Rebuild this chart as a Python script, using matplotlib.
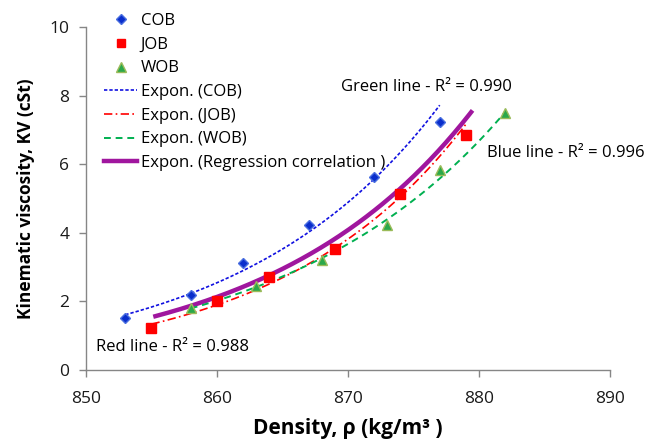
import numpy as np
import matplotlib
matplotlib.use('Agg')
import matplotlib.pyplot as plt
from matplotlib.lines import Line2D

plt.rcParams['font.family'] = ['Open Sans', 'DejaVu Sans']

# ====== data ======
cob_x = [853, 858, 862, 867, 872, 877]
cob_y = [1.52, 2.20, 3.12, 4.23, 5.64, 7.24]
job_x = [855, 860, 864, 869, 874, 879]
job_y = [1.22, 2.01, 2.70, 3.53, 5.12, 6.85]
wob_x = [858, 863, 868, 873, 877, 882]
wob_y = [1.80, 2.46, 3.21, 4.22, 5.83, 7.48]
# regression correlation series (markers hidden, only its trendline is drawn)
reg_x = [855.3, 860, 865, 870, 875, 879.4]
reg_y = [1.57, 2.12, 2.96, 4.08, 5.70, 7.46]

x_ticks = [850, 860, 870, 880, 890]
y_ticks = [0, 2, 4, 6, 8, 10]


def expon_fit(x, y, n=200):
    # Excel-style exponential trendline: ln(y) linear in x
    x = np.asarray(x, float); y = np.asarray(y, float)
    x0 = x.mean()
    b, a = np.polyfit(x - x0, np.log(y), 1)
    xs = np.linspace(x.min(), x.max(), n)
    return xs, np.exp(a + b * (xs - x0))


fig = plt.figure(figsize=(6.48, 4.48), dpi=100)
ax = fig.add_axes([0.1327, 0.1741, 0.8087, 0.7656])

blue, red, green, purple = '#0a2ecc', '#ff0000', '#2ba84a', '#a0169e'

ax.plot(cob_x, cob_y, 'D', color=blue, markeredgecolor='#4a6fe0', markersize=5.5, zorder=4)
ax.plot(job_x, job_y, 's', color=red, markeredgecolor=red, markersize=6.8, zorder=4)
ax.plot(wob_x, wob_y, '^', color=green, markeredgecolor='#9bbb59', markersize=7.5, zorder=4)

xs, ys = expon_fit(cob_x, cob_y)
ax.plot(xs, ys, color='#1010e0', linestyle=(0, (2, 1.2)), linewidth=1.2, zorder=3)
xs, ys = expon_fit(job_x, job_y)
ax.plot(xs, ys, color=red, linestyle=(0, (5, 2, 1, 2)), linewidth=1.2, zorder=3)
xs, ys = expon_fit(wob_x, wob_y)
ax.plot(xs, ys, color='#00b050', linestyle=(0, (3.5, 2.5)), linewidth=1.4, zorder=3)
xs, ys = expon_fit(reg_x, reg_y)
ax.plot(xs, ys, color=purple, linewidth=3.2, zorder=2)

ax.set_xlim(850, 890)
ax.set_ylim(0, 10)
ax.set_xticks(x_ticks)
ax.set_yticks(y_ticks)
for s in ['top', 'right']:
    ax.spines[s].set_visible(False)
for s in ['left', 'bottom']:
    ax.spines[s].set_color('#868686')
    ax.spines[s].set_linewidth(1.0)
ax.tick_params(axis='both', direction='out', length=5, width=1.0, color='#868686',
               labelsize=12.5, labelcolor='#1a1a1a')
ax.tick_params(axis='x', pad=10)
ax.tick_params(axis='y', pad=7)

ax.set_xlabel('Density, ρ (kg/m³ )', fontsize=15, fontweight='bold', labelpad=8)
ax.set_ylabel('Kinematic viscosity, KV (cSt)', fontsize=12.5, fontweight='bold', labelpad=10)

ax.text(869.5, 8.25, 'Green line - R² = 0.990', fontsize=12, va='center', ha='left')
ax.text(880.6, 6.33, 'Blue line - R² = 0.996', fontsize=12, va='center', ha='left', clip_on=False)
ax.text(850.8, 0.67, 'Red line - R² = 0.988', fontsize=12, va='center', ha='left')

handles = [
    Line2D([], [], marker='D', color=blue, markeredgecolor='#4a6fe0', linestyle='none', markersize=5),
    Line2D([], [], marker='s', color=red, linestyle='none', markersize=6),
    Line2D([], [], marker='^', color=green, markeredgecolor='#9bbb59', linestyle='none', markersize=7),
    Line2D([], [], color='#1010e0', linestyle=(0, (2, 1.2)), linewidth=1.2),
    Line2D([], [], color=red, linestyle=(0, (5, 2, 1, 2)), linewidth=1.2),
    Line2D([], [], color='#00b050', linestyle=(0, (3.5, 2.5)), linewidth=1.4),
    Line2D([], [], color=purple, linewidth=3.2),
]
labels = ['COB', 'JOB', 'WOB', 'Expon. (COB)', 'Expon. (JOB)', 'Expon. (WOB)',
          'Expon. (Regression correlation )']
fig.legend(handles, labels, loc='upper left', bbox_to_anchor=(0.145, 0.993), frameon=False,
           fontsize=12, handlelength=2.0, handletextpad=0.2, labelspacing=0.46,
           borderaxespad=0.2)

plt.savefig('out.png', dpi=100)
plt.close()
